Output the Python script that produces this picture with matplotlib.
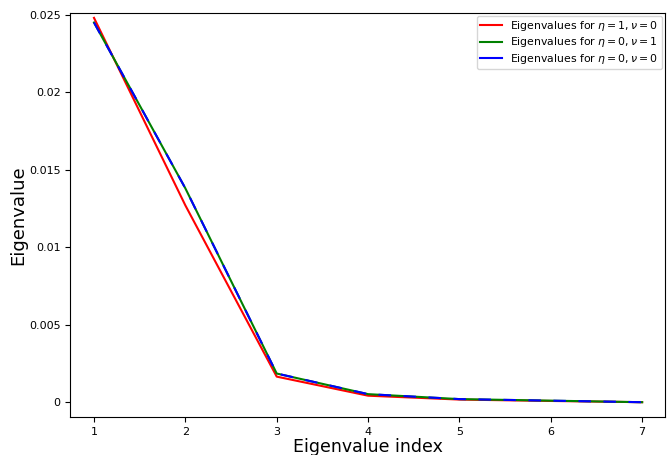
import matplotlib
matplotlib.use("Agg")
import matplotlib.pyplot as plt
from matplotlib.ticker import FuncFormatter

idx = [1, 2, 3, 4, 5, 6, 7]
eig_eta1_nu0 = [0.0248, 0.0127, 0.00165, 0.00042, 0.00017, 0.00008, 0.0]
eig_eta0_nu1 = [0.0245, 0.0138, 0.00185, 0.00052, 0.00020, 0.00010, 0.0]
eig_eta0_nu0 = [0.0245, 0.0138, 0.00185, 0.00052, 0.00020, 0.00010, 0.0]

fig = plt.figure(figsize=(6.69, 4.55), dpi=100)
ax = fig.add_axes([0.105, 0.083, 0.889, 0.889])

ax.plot(idx, eig_eta1_nu0, color='red', lw=1.5, label=r'Eigenvalues for $\eta=1, \nu=0$')
ax.plot(idx, eig_eta0_nu1, color='green', lw=1.5, label=r'Eigenvalues for $\eta=0, \nu=1$')
ax.plot(idx, eig_eta0_nu0, color='blue', lw=1.5, dashes=(6, 6), label=r'Eigenvalues for $\eta=0, \nu=0$')
# legend shows solid blue line
leg = ax.legend(loc='upper right', fontsize=7.8, labelspacing=0.2,
                borderaxespad=0.3, borderpad=0.3)
leg.get_lines()[2].set_linestyle('-')

ax.set_xlabel('Eigenvalue index', fontsize=12.5, labelpad=1)
ax.set_ylabel('Eigenvalue', fontsize=13, labelpad=1)
ax.set_xlim(0.74, 7.25)
ax.set_ylim(-0.00097, 0.02513)
ax.set_yticks([0, 0.005, 0.01, 0.015, 0.02, 0.025])
ax.yaxis.set_major_formatter(FuncFormatter(lambda v, p: '%g' % v))
ax.tick_params(labelsize=8)

fig.savefig('out.png', dpi=100)
